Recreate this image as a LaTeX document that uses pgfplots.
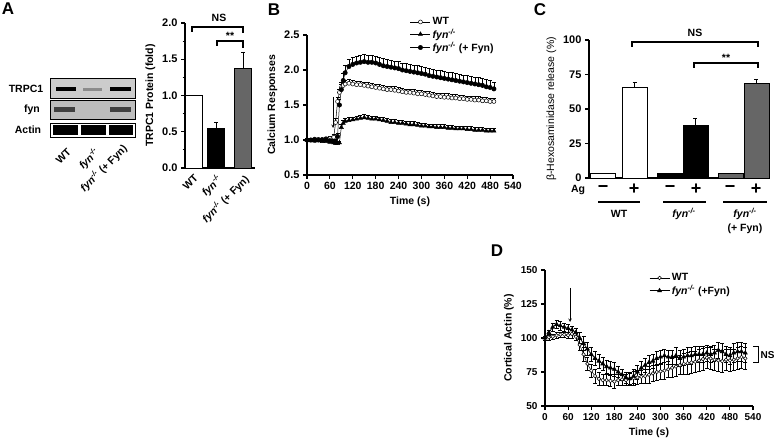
\documentclass[border=0pt]{standalone}
\usepackage{fontspec}
\setmainfont{Liberation Sans}
\usepackage{pgfplots}
\pgfplotsset{compat=1.18}
\usepackage{pgfplotstable}

\newcommand{\fs}{\fontsize{10.5}{12}\selectfont\bfseries}
\newcommand{\ft}{\fontsize{11}{12}\selectfont\bfseries}
\newcommand{\fyn}{\textit{fyn}\textsuperscript{\textit{-/-}}}

\pgfplotstableread{
t   wt   wte  fyn  fyne ff   ffe
0   1.00 0.02 1.00 0.02 1.00 0.02
10  1.00 0.02 0.99 0.02 1.00 0.02
20  0.99 0.02 0.99 0.02 1.01 0.02
30  1.01 0.02 0.99 0.02 1.00 0.02
40  1.01 0.02 0.98 0.02 1.00 0.02
50  1.02 0.02 0.98 0.02 1.01 0.02
60  1.02 0.03 0.97 0.02 0.99 0.02
70  1.04 0.04 0.96 0.02 0.98 0.03
75  1.25 0.06 0.95 0.02 0.98 0.03
80  1.55 0.06 0.95 0.02 1.05 0.04
85  1.68 0.05 0.96 0.02 1.50 0.08
90  1.75 0.05 1.18 0.04 1.72 0.10
95  1.78 0.05 1.24 0.04 1.85 0.10
100 1.80 0.05 1.27 0.04 1.96 0.10
110 1.81 0.05 1.28 0.04 2.05 0.10
120 1.80 0.05 1.29 0.04 2.08 0.10
130 1.79 0.05 1.30 0.04 2.10 0.10
140 1.79 0.05 1.31 0.04 2.11 0.10
150 1.78 0.05 1.32 0.04 2.12 0.10
160 1.77 0.05 1.31 0.04 2.11 0.10
170 1.76 0.05 1.30 0.04 2.11 0.10
180 1.75 0.05 1.30 0.04 2.10 0.10
190 1.74 0.05 1.29 0.04 2.08 0.10
200 1.73 0.05 1.28 0.04 2.06 0.10
210 1.72 0.05 1.27 0.04 2.05 0.10
220 1.72 0.05 1.25 0.04 2.04 0.10
230 1.71 0.05 1.25 0.04 2.03 0.10
240 1.70 0.05 1.24 0.04 2.02 0.10
250 1.69 0.05 1.24 0.04 2.00 0.10
260 1.68 0.05 1.23 0.04 1.99 0.10
270 1.68 0.05 1.22 0.04 1.98 0.10
280 1.67 0.05 1.22 0.04 1.97 0.10
290 1.66 0.05 1.21 0.04 1.96 0.10
300 1.66 0.05 1.20 0.04 1.95 0.10
310 1.65 0.05 1.20 0.04 1.94 0.10
320 1.64 0.05 1.19 0.04 1.92 0.10
330 1.63 0.05 1.19 0.04 1.91 0.10
340 1.62 0.05 1.18 0.04 1.90 0.10
350 1.62 0.05 1.18 0.04 1.89 0.10
360 1.61 0.05 1.18 0.04 1.88 0.10
370 1.61 0.05 1.17 0.04 1.87 0.10
380 1.60 0.05 1.17 0.04 1.86 0.10
390 1.60 0.05 1.16 0.04 1.85 0.10
400 1.59 0.05 1.16 0.04 1.84 0.10
410 1.59 0.05 1.16 0.04 1.83 0.10
420 1.58 0.05 1.15 0.04 1.82 0.10
430 1.58 0.05 1.15 0.04 1.81 0.10
440 1.57 0.05 1.14 0.04 1.80 0.10
450 1.57 0.05 1.14 0.04 1.79 0.10
460 1.56 0.05 1.14 0.04 1.78 0.10
470 1.56 0.05 1.13 0.04 1.76 0.10
480 1.55 0.05 1.13 0.04 1.75 0.10
490 1.55 0.05 1.13 0.04 1.73 0.10
}\tabB

\pgfplotstableread{
t   wt    wte ff  ffe
0   100   1.5 100 1.5
10  100.5 2   104 2
20  101   2   108 3
30  102   2   110 3
40  102.5 2   109 3
50  102.5 2   108 3
60  102   2.5 107 3
70  103   3   106 3
80  101   3   104 3
90  95    4   100 4
100 88    5   96  5
110 81    5   92  5
120 76    5   88  5
130 72    5   85  5
140 70    5   83  5
150 69    4   81  5
160 69    4   79  5
170 68.5  4   78  5
180 68    5   77  5
190 69    4   75  4
200 69.5  4   73  4
210 69    4   71  4
220 70    5   70  4
230 70.5  5   72  5
240 71    5   75  5
250 71.5  5   78  5
260 72    5   80  5
270 73    6   82  5
280 74    6   83  5
290 75    6   85  5
300 75.5  6   86  5
310 76    6   87  5
320 77    6   86  5
330 78    7   86  5
340 79    7   87  6
350 80    7   85  6
360 81    8   86  6
370 81.5  8   87  6
380 82    8   87  6
390 82.5  8   88  6
400 83.5  8   88  6
410 84.5  8   88  6
420 85.5  8   89  6
430 85    8   88  6
440 84    8   89  6
450 83.5  8   91  6
460 83    8   90  6
470 84    8   88  6
480 83.5  8   87  6
490 84    8   89  7
500 85    8   90  7
510 86    8   90  7
520 85    8   89  7
}\tabD

\pgfplotsset{
  prism/.style={
    scale only axis, anchor=south west, clip=false,
    axis lines=left, axis line style={line width=1.3pt,-},
    tick style={line width=1.1pt, black},
    tick align=outside, major tick length=4pt, minor tick length=2.5pt,
    ticklabel style={font=\ft},
    /pgf/number format/assume math mode=true,
    label style={font=\fs},
  },
  longlegend/.style={legend image code/.code={%
    \draw[mark repeat=2,mark phase=2,##1] plot coordinates {(0pt,0pt)(10pt,0pt)(20pt,0pt)};}},
  errs/.style={error bars/.cd, y dir=plus, y explicit,
    error bar style={line width=0.6pt, black},
    error mark options={rotate=90, mark size=2pt, line width=0.6pt}},
  errsboth/.style={error bars/.cd, y dir=both, y explicit,
    error bar style={line width=0.5pt, black},
    error mark options={rotate=90, mark size=2pt, line width=0.5pt}},
}

\begin{document}
\begin{tikzpicture}[x=1pt,y=-1pt]
\useasboundingbox (0,0) rectangle (776,443);

% ---------------- Panel A: blot ----------------
\begin{axis}[at={(50pt,-137pt)}, anchor=south west, scale only axis,
  width=85pt, height=59pt, xmin=50, xmax=135, ymin=78, ymax=137,
  y dir=reverse, hide axis, clip=false]
\addplot[fill=black!20, draw=black, line width=0.8pt] coordinates {(50,78)(135,78)(135,98.5)(50,98.5)} -- cycle;
\addplot[fill=black!26, draw=black, line width=0.8pt] coordinates {(50,100)(135,100)(135,119)(50,119)} -- cycle;
\addplot[fill=white, draw=black, line width=0.8pt] coordinates {(50,123)(135,123)(135,137)(50,137)} -- cycle;
% TRPC1 bands
\addplot[black, line width=4.5pt] coordinates {(56,89)(76,89)};
\addplot[black!45, line width=3pt] coordinates {(83,89.5)(102,89.5)};
\addplot[black, line width=4.5pt] coordinates {(110,89)(131,89)};
% fyn bands
\addplot[black!75, line width=5pt] coordinates {(54,110)(75,110)};
\addplot[black!75, line width=5pt] coordinates {(110,110)(131,110)};
% actin bands
\addplot[black, line width=10pt] coordinates {(53,130)(77.5,130)};
\addplot[black, line width=10pt] coordinates {(80.5,130)(106,130)};
\addplot[black, line width=10pt] coordinates {(109,130)(133,130)};
\end{axis}

% ---------------- Panel A: bars ----------------
\begin{axis}[prism, at={(185pt,-168pt)}, width=70pt, height=145pt,
  xmin=0, xmax=3, ymin=0, ymax=2,
  ytick={0,0.5,...,2}, minor ytick={0.25,0.75,...,1.75},
  yticklabel style={/pgf/number format/fixed, /pgf/number format/fixed zerofill, /pgf/number format/precision=1},
  xtick={0.37,1.33,2.49}, xticklabels={WT,\fyn,{\fyn{} (+ Fyn)}},
  xtick style={draw=none},
  xticklabel style={rotate=45, anchor=north east, inner sep=1pt, font=\fs},
  ylabel={TRPC1 Protein (fold)}]
\addplot[ybar, bar width=17pt, bar shift=0pt, draw=black, line width=0.8pt, fill=white] coordinates {(0.37,1.0)};
\addplot[ybar, bar width=17pt, bar shift=0pt, draw=black, line width=0.8pt, fill=black, errs] coordinates {(1.33,0.55) +- (0,0.08)};
\addplot[ybar, bar width=17pt, bar shift=0pt, draw=black, line width=0.8pt, fill=black!60, errs] coordinates {(2.49,1.38) +- (0,0.22)};
\end{axis}

% ---------------- Panel B ----------------
\begin{axis}[prism, longlegend, at={(307pt,-175pt)}, width=206pt, height=140pt,
  xmin=0, xmax=540, ymin=0.5, ymax=2.5,
  xtick={0,60,...,540}, ytick={0.5,1,...,2.5},
  yticklabel style={/pgf/number format/fixed, /pgf/number format/fixed zerofill, /pgf/number format/precision=1},
  xticklabel style={font=\fs},
  xlabel={Time (s)}, ylabel={Calcium Responses},
  legend style={draw=none, fill=none, at={(0.5,1.14)}, anchor=north west, font=\fs, row sep=-1.5pt, inner sep=0pt},
  legend cell align=left]
\addplot[black, line width=0.5pt, mark=*, mark size=2pt, mark options={fill=white, draw=black, line width=0.5pt}, errs] table[x=t, y=wt, y error=wte] {\tabB};
\addlegendentry{WT}
\addplot[black, line width=0.5pt, mark=triangle*, mark size=2.4pt, mark options={fill=black}, errs] table[x=t, y=fyn, y error=fyne] {\tabB};
\addlegendentry{\fyn}
\addplot[black, line width=0.5pt, mark=*, mark size=2.2pt, mark options={fill=black}, errs] table[x=t, y=ff, y error=ffe] {\tabB};
\addlegendentry{\fyn{} (+ Fyn)}
\end{axis}
\draw[->, >=stealth, line width=0.6pt] (333,97) -- (333,128);

% ---------------- Panel C ----------------
\begin{axis}[prism, at={(589pt,-178pt)}, width=181pt, height=138pt,
  xmin=0, xmax=6, ymin=0, ymax=100,
  ytick={0,25,...,100}, xtick=\empty,
  ylabel={\mdseries\fontsize{10.5}{12}\selectfont β-Hexosaminidase release (\%)}]
\addplot[ybar, bar width=25pt, bar shift=0pt, draw=black, line width=0.8pt, fill=white] coordinates {(0.46,3.5)};
\addplot[ybar, bar width=25pt, bar shift=0pt, draw=black, line width=0.8pt, fill=white, errs] coordinates {(1.51,66) +- (0,3.5)};
\addplot[ybar, bar width=25pt, bar shift=0pt, draw=black, line width=0.8pt, fill=black] coordinates {(2.67,3)};
\addplot[ybar, bar width=25pt, bar shift=0pt, draw=black, line width=0.8pt, fill=black, errs] coordinates {(3.53,38) +- (0,5)};
\addplot[ybar, bar width=25pt, bar shift=0pt, draw=black, line width=0.8pt, fill=black!60] coordinates {(4.69,3)};
\addplot[ybar, bar width=25pt, bar shift=0pt, draw=black, line width=0.8pt, fill=black!60, errs] coordinates {(5.55,68.5) +- (0,3)};
\end{axis}

% ---------------- Panel D ----------------
\begin{axis}[prism, longlegend, at={(545pt,-406pt)}, width=208pt, height=136pt,
  xmin=0, xmax=540, ymin=50, ymax=150,
  xtick={0,60,...,540}, ytick={50,75,...,150},
  ticklabel style={font=\fontsize{10}{12}\selectfont\bfseries},
  xlabel={Time (s)}, ylabel={Cortical Actin (\%)},
  legend style={draw=none, fill=none, at={(0.5,0.99)}, anchor=north west, font=\fs, row sep=-1pt, inner sep=0pt},
  legend cell align=left]
\addplot[black, line width=0.5pt, mark=*, mark size=1.8pt, mark options={fill=white, draw=black, line width=0.5pt}, errsboth] table[x=t, y=wt, y error=wte] {\tabD};
\addlegendentry{WT}
\addplot[black, line width=0.7pt, mark=triangle*, mark size=2.2pt, mark options={fill=black}, errsboth] table[x=t, y=ff, y error=ffe] {\tabD};
\addlegendentry{\fyn{} (+Fyn)}
\end{axis}
\draw[->, >=stealth, line width=0.6pt] (570,288) -- (570,322);
\draw[line width=1pt] (753,347) -- (758,347) -- (758,362) -- (753,362);
\node[anchor=west, font=\fontsize{10}{12}\selectfont\bfseries, inner sep=0.5pt] at (760,355) {NS};

% ---------------- annotations ----------------
\node[font=\fontsize{17}{17}\selectfont\bfseries] at (8,9) {A};
\node[font=\fontsize{17}{17}\selectfont\bfseries] at (274,10) {B};
\node[font=\fontsize{17}{17}\selectfont\bfseries] at (540,10) {C};
\node[font=\fontsize{17}{17}\selectfont\bfseries] at (497,251) {D};

% blot labels
\node[font=\fs] at (26,89) {TRPC1};
\node[font=\fs] at (32,110) {fyn};
\node[font=\fs] at (28,130) {Actin};
\node[font=\fs, rotate=45, anchor=east, inner sep=1pt] at (70,150) {WT};
\node[font=\fs, rotate=45, anchor=east, inner sep=1pt] at (98,150) {\fyn};
\node[font=\fs, rotate=45, anchor=east, inner sep=1pt] at (126,146) {\fyn{} (+ Fyn)};

% A brackets
\draw[line width=1.1pt] (192,32) -- (192,27) -- (243,27) -- (243,33);
\node[font=\fs] at (219,18) {NS};
\draw[line width=1.1pt] (217,46) -- (217,41) -- (243,41) -- (243,48);
\node[font=\fs] at (230,36) {**};

% C brackets and labels
\draw[line width=1.3pt] (632,47) -- (632,42) -- (758,42) -- (758,47);
\node[font=\fs] at (695,33) {NS};
\draw[line width=1.3pt] (694,68) -- (694,63) -- (758,63) -- (758,68);
\node[font=\fs] at (726,58) {**};
\node[font=\fs] at (578,190) {Ag};
\foreach \x in {603,670,730} {\node[font=\fontsize{18}{18}\selectfont\bfseries] at (\x,189) {−};}
\foreach \x in {634,696,756} {\node[font=\fontsize{18}{18}\selectfont\bfseries] at (\x,189) {+};}
\draw[line width=2.5pt] (598,202) -- (640,202);
\draw[line width=2.5pt] (663,202) -- (706,202);
\draw[line width=2.5pt] (723,202) -- (767,202);
\node[font=\fs] at (619,214) {WT};
\node[font=\fs] at (684,214) {\fyn};
\node[font=\fs] at (745,214) {\fyn};
\node[font=\fs] at (745,229) {(+ Fyn)};
\end{tikzpicture}
\end{document}
